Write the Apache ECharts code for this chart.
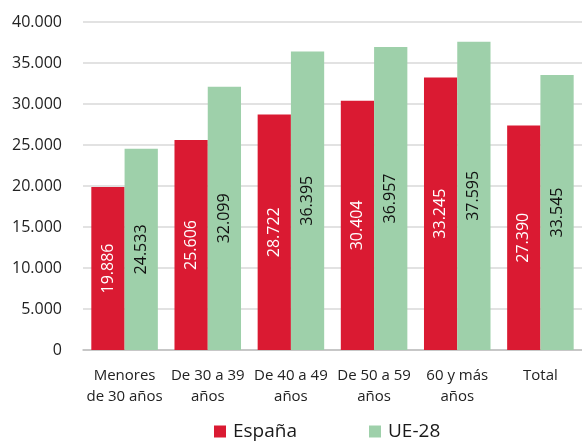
<!DOCTYPE html>
<html>
<head>
<meta charset="utf-8">
<script src="https://cdn.jsdelivr.net/npm/echarts@6/dist/echarts.min.js"></script>
<style>
  html, body { margin: 0; padding: 0; background: #fff; }
  #chart { width: 582px; height: 446px; }
</style>
</head>
<body>
<div id="chart"></div>
<script>
// datos
var categorias = ['Menores\nde 30 años', 'De 30 a 39\naños', 'De 40 a 49\naños', 'De 50 a 59\naños', '60 y más\naños', 'Total'];
var espana = [19886, 25606, 28722, 30404, 33245, 27390];
var ue28 = [24533, 32099, 36395, 36957, 37595, 33545];

var fuente = '"Open Sans", "Noto Sans", sans-serif';

// formato con punto de miles
function miles(v) {
    return String(v).replace(/\B(?=(\d{3})+(?!\d))/g, '.');
}

var chart = echarts.init(document.getElementById('chart'));

// etiqueta vertical centrada en la barra
function etiqueta(color) {
    return {
        show: true,
        position: 'inside',
        rotate: 90,
        align: 'center',
        verticalAlign: 'middle',
        fontFamily: fuente,
        fontSize: 16,
        color: color,
        formatter: function (p) { return miles(p.value); }
    };
}

var option = {
    animation: false,
    grid: { left: 83, right: -2, top: 22, bottom: 96 },
    legend: {
        bottom: 0,
        left: 209,
        itemWidth: 12,
        itemHeight: 12,
        itemGap: 72,
        icon: 'rect',
        textStyle: { fontFamily: fuente, fontSize: 19, color: '#1a1a1a', padding: [0, 0, 0, 2] },
        data: ['España', 'UE-28']
    },
    xAxis: {
        type: 'category',
        data: categorias,
        axisLine: { lineStyle: { color: '#bfbfbf', width: 1.5 } },
        axisTick: { show: false },
        axisLabel: { fontFamily: fuente, fontSize: 15, color: '#222', lineHeight: 21, margin: 15, interval: 0 }
    },
    yAxis: {
        type: 'value',
        min: 0,
        max: 40000,
        interval: 5000,
        axisLine: { show: false },
        axisTick: { show: false },
        splitLine: { lineStyle: { color: '#d9d9d9', width: 1.5 } },
        axisLabel: {
            fontFamily: fuente, fontSize: 16, color: '#222', margin: 21,
            formatter: function (v) { return miles(v); }
        }
    },
    series: [
        {
            name: 'España',
            type: 'bar',
            data: espana,
            barGap: '0%',
            barCategoryGap: '20%',
            itemStyle: { color: '#da1a32' },
            label: etiqueta('#fff')
        },
        {
            name: 'UE-28',
            type: 'bar',
            data: ue28,
            barGap: '0%',
            barCategoryGap: '20%',
            itemStyle: { color: '#9ed0aa' },
            label: etiqueta('#111')
        }
    ]
};

chart.setOption(option);
</script>
</body>
</html>
